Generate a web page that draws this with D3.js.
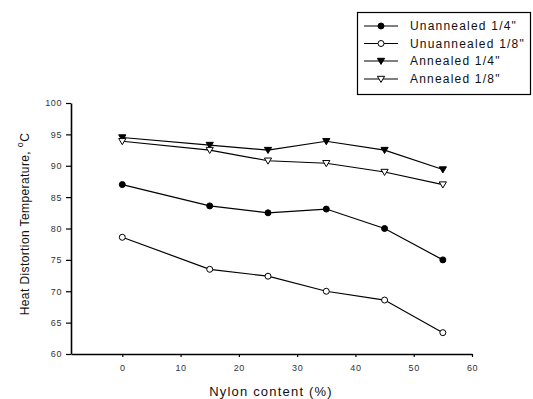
<!DOCTYPE html>
<html><head><meta charset="utf-8">
<script src="https://cdn.jsdelivr.net/npm/d3@7"></script>
<style>body{margin:0;background:#fff;}svg{display:block;font-family:"Liberation Sans",Arial,sans-serif;}</style>
</head><body>
<svg id="c" width="533" height="399"></svg>
<script>
const nylon = [0, 15, 25, 35, 45, 55];
const unannealedQuarter = [87.0, 83.6, 82.5, 83.1, 80.0, 75.0];
const unannealedEighth = [78.6, 73.5, 72.4, 70.0, 68.6, 63.4];
const annealedQuarter = [94.5, 93.3, 92.5, 93.9, 92.5, 89.4];
const annealedEighth = [93.9, 92.5, 90.8, 90.4, 89.0, 87.0];
const seriesNames = ["Unannealed 1/4\"", "Unuannealed 1/8\"", "Annealed 1/4\"", "Annealed 1/8\""];
const xTicks = [0, 10, 20, 30, 40, 50, 60];
const yTicks = [60, 65, 70, 75, 80, 85, 90, 95, 100];

const series = [
  {name: seriesNames[0], values: unannealedQuarter, marker: "circle", fill: "#000"},
  {name: seriesNames[1], values: unannealedEighth, marker: "circle", fill: "#fff"},
  {name: seriesNames[2], values: annealedQuarter, marker: "tri", fill: "#000"},
  {name: seriesNames[3], values: annealedEighth, marker: "tri", fill: "#fff"}
];

const svg = d3.select("#c");
const x = d3.scaleLinear().domain([-8.8, 60]).range([71, 472]);
const y = d3.scaleLinear().domain([60, 100]).range([354, 103]);

// axes
const gx = svg.append("g").attr("transform", "translate(0,354)")
  .call(d3.axisBottom(x).tickValues(xTicks).tickSize(3).tickSizeOuter(0).tickPadding(8));
const gy = svg.append("g").attr("transform", "translate(71,0)")
  .call(d3.axisLeft(y).tickValues(yTicks).tickSize(5).tickSizeOuter(0).tickPadding(4));
[gx, gy].forEach(g => {
  g.select(".domain").attr("stroke", "#000").attr("stroke-width", 1.6);
  g.selectAll(".tick line").attr("stroke", "#000").attr("stroke-width", 1.2);
  g.selectAll(".tick text").attr("font-size", 9).attr("fill", "#333").attr("letter-spacing", 0.6)
    .attr("font-family", "'Liberation Sans',Arial,sans-serif");
});

function drawMarker(g, type, fill, cx, cy) {
  if (type === "circle") {
    g.append("circle").attr("cx", cx).attr("cy", cy).attr("r", 3)
      .attr("fill", fill).attr("stroke", "#000").attr("stroke-width", 1);
  } else {
    const s = 3.6;
    g.append("path")
      .attr("d", `M${cx - s},${cy - s * 0.75}L${cx + s},${cy - s * 0.75}L${cx},${cy + s * 0.95}Z`)
      .attr("fill", fill).attr("stroke", "#000").attr("stroke-width", 1);
  }
}

const line = d3.line().x((d, i) => x(nylon[i])).y(d => y(d));
series.forEach(s => {
  const g = svg.append("g");
  g.append("path").attr("d", line(s.values)).attr("fill", "none")
    .attr("stroke", "#000").attr("stroke-width", 1.2);
  s.values.forEach((v, i) => drawMarker(g, s.marker, s.fill, x(nylon[i]), y(v)));
});

// axis labels
svg.append("text").attr("transform", "translate(29,224) rotate(-90)")
  .attr("text-anchor", "middle").attr("font-size", 12).attr("fill", "#111").attr("letter-spacing", 0.4)
  .html('Heat Distortion Temperature, <tspan dy="-6" font-size="9">o</tspan><tspan dy="6">C</tspan>');
svg.append("text").attr("x", 271).attr("y", 396).attr("text-anchor", "middle")
  .attr("font-size", 13).attr("fill", "#111").attr("letter-spacing", 1.2).text("Nylon content (%)");

// legend
const lg = svg.append("g");
lg.append("rect").attr("x", 357.5).attr("y", 12.5).attr("width", 173).attr("height", 82)
  .attr("fill", "#fff").attr("stroke", "#000").attr("stroke-width", 1.2);
const legY = [26, 43.5, 61, 79];
series.forEach((s, i) => {
  lg.append("line").attr("x1", 364).attr("x2", 398).attr("y1", legY[i]).attr("y2", legY[i])
    .attr("stroke", "#000").attr("stroke-width", 1.2);
  drawMarker(lg, s.marker, s.fill, 381, legY[i]);
  lg.append("text").attr("x", 410).attr("y", legY[i] + 4).attr("font-size", 12)
    .attr("letter-spacing", 1.2).attr("fill", "#111").text(s.name);
});
</script>
</body></html>
